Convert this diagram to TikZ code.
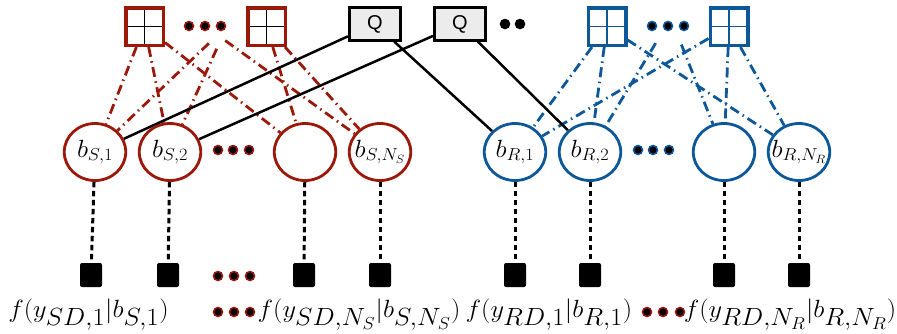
\documentclass[tikz,border=0pt]{standalone}
\usepackage{fontspec}
\usepackage{graphicx}
\usetikzlibrary{shapes.geometric}
\newfontfamily\qfont{Liberation Sans}
\definecolor{sred}{RGB}{155,25,10}
\definecolor{rblue}{RGB}{12,88,152}
\pgfdeclarelayer{bg}
\pgfsetlayers{bg,main}
\newcommand\widetext[2][1.06]{\scalebox{#1}[1]{#2}}
\tikzset{
  varnode/.style={ellipse, draw=#1, line width=2.8pt, fill=white,
    minimum width=61.5pt, minimum height=57pt, inner sep=0pt},
  vlab/.style={label={[font=\fontsize{24.5}{29}\selectfont, inner sep=0pt]center:#1}},
  checknode/.style 2 args={draw=#1, line width=3.5pt, fill=white,
    minimum size=37.5pt, inner sep=0pt,
    path picture={\draw[#2, line width=1.5pt]
      (path picture bounding box.north) -- (path picture bounding box.south)
      (path picture bounding box.west) -- (path picture bounding box.east);}},
  qbox/.style={draw=black, fill=gray!15, line width=2.6pt,
    minimum width=51.5pt, minimum height=32.5pt, inner sep=0pt,
    font=\qfont\fontsize{20}{24}\selectfont},
  factor/.style={fill=black, minimum width=22pt, minimum height=24pt,
    inner sep=0pt, rounded corners=2pt},
  dotnode/.style={circle, fill=black, draw=#1, line width=1.5pt,
    minimum size=9pt, inner sep=0pt},
  redge/.style={draw=sred, line width=2.8pt,
    dash pattern=on 10pt off 4.5pt on 1.5pt off 4.5pt},
  bedge/.style={draw=rblue, line width=2.8pt,
    dash pattern=on 10pt off 4.5pt on 1.5pt off 4.5pt},
  hidden/.style={shorten <=25pt},
  qedge/.style={draw=black, line width=2.5pt},
  obsedge/.style={draw=black, line width=3pt, dash pattern=on 5.5pt off 3.5pt},
  lab/.style={anchor=base, inner sep=0pt, font=\fontsize{34.5}{40}\selectfont},
}
\begin{document}
\begin{tikzpicture}[x=1pt,y=-1pt]
\useasboundingbox (0,0) rectangle (897,333);

% check nodes
\node[checknode={sred}{black}] (s1) at (144.5,26.5) {};
\node[checknode={sred}{black}] (s2) at (266.5,26.5) {};
\node[checknode={rblue}{rblue}] (r1) at (607,26.5) {};
\node[checknode={rblue}{rblue}] (r2) at (729,26.5) {};
\node[dotnode=sred] (sd1) at (189,26) {};
\node[dotnode=sred] (sd2) at (205,26) {};
\node[dotnode=sred] (sd3) at (221,26) {};
\node[dotnode=rblue] (rd1) at (652,26) {};
\node[dotnode=rblue] (rd2) at (668,26) {};
\node[dotnode=rblue] (rd3) at (684,26) {};
\coordinate (hD) at (227,26);
\coordinate (hF) at (205,26);
\coordinate (hE) at (666,26);
\coordinate (hG) at (674,26);

% quantizer boxes
\node[qbox] (q1) at (375,24) {Q};
\node[qbox] (q2) at (460,24) {Q};
\node[dotnode=black] (qd1) at (505,24) {};
\node[dotnode=black] (qd2) at (520,24) {};

% variable nodes
\node[varnode=sred, vlab={\widetext{$b_{S,1}$}}] (bs1) at (95,152) {};
\node[varnode=sred, vlab={\widetext{$b_{S,2}$}}] (bs2) at (170,152) {};
\node[varnode=sred] (bs3) at (305,152) {};
\node[varnode=sred, vlab={\widetext{$b_{S,N_S}$}}] (bs4) at (380,152) {};
\node[varnode=rblue, vlab={\widetext{$b_{R,1}$}}] (br1) at (515,152) {};
\node[varnode=rblue, vlab={\widetext{$b_{R,2}$}}] (br2) at (590,152) {};
\node[varnode=rblue] (br3) at (724,152) {};
\node[varnode=rblue, vlab={\widetext{$b_{R,N_R}$}}] (br4) at (799,152) {};
\node[dotnode=sred] (sm1) at (218,150) {};
\node[dotnode=sred] (sm2) at (233,150) {};
\node[dotnode=sred] (sm3) at (249,150) {};
\node[dotnode=rblue] (rm1) at (638,150) {};
\node[dotnode=rblue] (rm2) at (653,150) {};
\node[dotnode=rblue] (rm3) at (669,150) {};

% observation factors
\node[factor] (fs1) at (91,275) {};
\node[factor] (fs2) at (168,275) {};
\node[factor] (fs3) at (304,275) {};
\node[factor] (fs4) at (380,275) {};
\node[factor] (fr1) at (515,275) {};
\node[factor] (fr2) at (590,275) {};
\node[factor] (fr3) at (724,275) {};
\node[factor] (fr4) at (799,275) {};
\node[dotnode=sred] (fd1) at (218,276) {};
\node[dotnode=sred] (fd2) at (234,276) {};
\node[dotnode=sred] (fd3) at (250,276) {};

% factor labels
\node[lab] (l1) at (88.5,317.5) {\widetext{$f(y_{SD,1}|b_{S,1})$}};
\node[lab] (l2) at (359,317.5) {\widetext{$f(y_{SD,N_S}|b_{S,N_S})$}};
\node[lab] (l3) at (549,317.5) {\widetext{$f(y_{RD,1}|b_{R,1})$}};
\node[lab] (l4) at (790,317.5) {\widetext{$f(y_{RD,N_R}|b_{R,N_R})$}};
\node[dotnode=sred] (ld1) at (218,312) {};
\node[dotnode=sred] (ld2) at (234,312) {};
\node[dotnode=sred] (ld3) at (250,312) {};
\node[dotnode=sred] (ld4) at (647,312) {};
\node[dotnode=sred] (ld5) at (663,312) {};
\node[dotnode=sred] (ld6) at (680,312) {};

\begin{pgfonlayer}{bg}
  % source check edges
  \draw[redge] (s1) -- (bs1);
  \draw[redge] (s1) -- (bs2);
  \draw[redge] (s1) -- (bs3);
  \draw[redge] (s2) -- (bs3);
  \draw[redge] (s2) -- (bs4);
  \draw[redge, hidden] (hD) -- (bs1);
  \draw[redge, hidden] (hD) -- (bs2);
  \draw[redge, hidden] (hF) -- (bs4);
  % relay check edges
  \draw[bedge] (r1) -- (br1);
  \draw[bedge] (r1) -- (br2);
  \draw[bedge] (r1) -- (br4);
  \draw[bedge] (r2) -- (br1);
  \draw[bedge] (r2) -- (br3);
  \draw[bedge] (r2) -- (br4);
  \draw[bedge, shorten <=20pt] (hE) -- (br2);
  \draw[bedge, shorten <=20pt] (hG) -- (br3);
  % quantizer edges
  \draw[qedge] (q1) -- (bs1);
  \draw[qedge] (q1) -- (br1);
  \draw[qedge] (q2) -- (bs2);
  \draw[qedge] (q2) -- (br2);
  % observations
  \foreach \v/\f in {bs1/fs1, bs2/fs2, bs3/fs3, bs4/fs4, br1/fr1, br2/fr2, br3/fr3, br4/fr4}
    \draw[obsedge] (\v) -- (\f);
\end{pgfonlayer}
\end{tikzpicture}
\end{document}
